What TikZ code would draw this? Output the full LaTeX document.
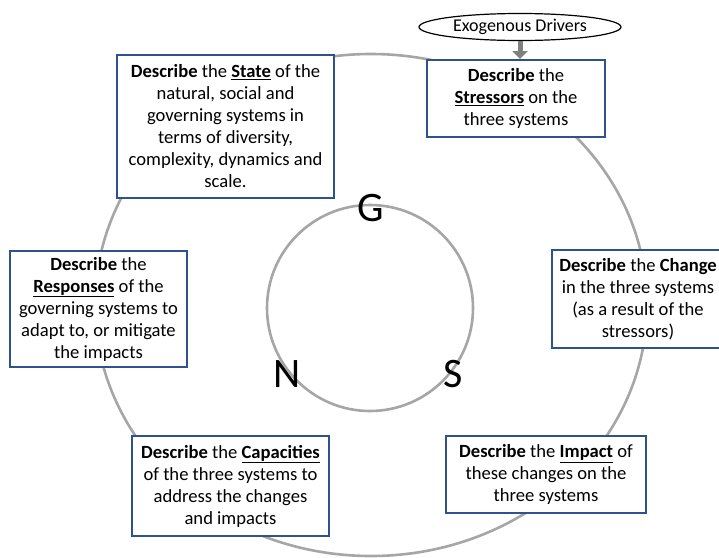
\documentclass[tikz,border=0pt]{standalone}
\usepackage{fontspec}
\setmainfont{Carlito}
\usepackage{xcolor}
\definecolor{boxblue}{RGB}{47,82,143}
\definecolor{ringgray}{RGB}{166,166,166}
\usepackage{tikz}
\usetikzlibrary{calc,positioning,shapes.geometric,arrows.meta}
\tikzset{
  task/.style={rectangle, draw=boxblue, fill=white, line width=2pt, align=center, inner sep=2pt,
    font=\fontsize{18.6}{22}\selectfont},
  ring/.style={draw=ringgray, line width=2.6pt},
  letter/.style={font=\fontsize{42}{42}\selectfont, inner sep=0pt},
  driver/.style={ellipse, draw=black, line width=1.2pt, fill=white, inner sep=1pt,
    minimum width=202pt, minimum height=27pt, font=\fontsize{18}{20}\selectfont},
  feed/.style={draw=gray, line width=5pt, -{Triangle[length=8pt,width=15pt]}},
}
\begin{document}
\begin{tikzpicture}[x=1pt, y=-1pt]
  \useasboundingbox (0,0) rectangle (719,557);
  \clip (0,0) rectangle (719,557);

  %rings
  \draw[ring] (371,305) ellipse [x radius=276, y radius=251];
  \draw[ring] (370,308) circle [radius=103];

  \node[letter] (g) at (371,208) {G};
  \node[letter] (n) at (287,374) {N};
  \node[letter] (s) at (453,374) {S};

  %boxes round the ring
  \node[task, minimum width=217pt, minimum height=143pt] (state) at (225.5,126.5)
    {\textbf{Describe} the \underline{\textbf{State}} of the\\ natural, social and\\ governing systems in\\ terms of diversity,\\ complexity, dynamics and\\ scale.};
  \node[task, minimum width=178pt, minimum height=77pt] (stress) at (516,98.5)
    {\textbf{Describe} the\\ \underline{\textbf{Stressors}} on the\\ three systems};
  \node[task, minimum width=172pt, minimum height=98pt] (change) at (638,299)
    {\textbf{Describe} the \textbf{Change}\\ in the three systems\\ (as a result of the\\ stressors)};
  \node[task, minimum width=200pt, minimum height=77pt] (impact) at (546,474.5)
    {\textbf{Describe} the \underline{\textbf{Impact}} of\\ these changes on the\\ three systems};
  \node[task, minimum width=197pt, minimum height=100pt] (capac) at (230.5,486)
    {\textbf{Describe} the \underline{\textbf{Capacities}}\\ of the three systems to\\ address the changes\\ and impacts};
  \node[task, minimum width=177pt, minimum height=116pt] (resp) at (98.5,309)
    {\textbf{Describe} the\\ \underline{\textbf{Responses}} of the\\ governing systems to\\ adapt to, or mitigate\\ the impacts};

  %drivers
  \node[driver] (exo) at (520,27) {Exogenous Drivers};

  \path[feed] (exo) -- (exo |- stress.north);
\end{tikzpicture}
\end{document}
